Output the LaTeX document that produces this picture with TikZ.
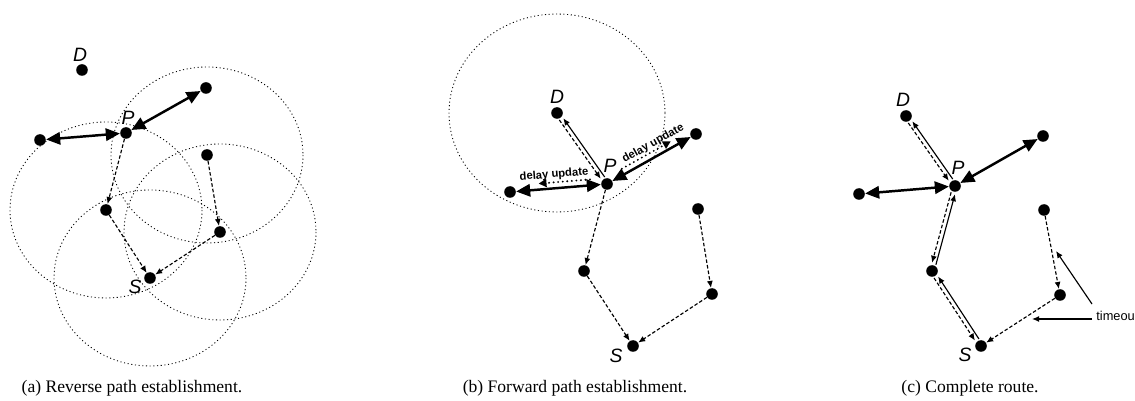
\documentclass[tikz,border=0pt]{standalone}
\usepackage{fontspec}
\setmainfont{Liberation Serif}
\newfontfamily\helv{Liberation Sans}
\usetikzlibrary{arrows.meta,calc}
\tikzset{
  dot/.style={circle,fill=black,inner sep=0pt,minimum size=6.6pt},
  lab/.style={font=\helv\itshape\fontsize{11}{13}\selectfont,inner sep=0pt},
  subcap/.style={font=\fontsize{10}{12}\selectfont,inner sep=0pt},
  note/.style={font=\helv\fontsize{7.3}{9}\selectfont,inner sep=0pt},
  updlab/.style={font=\helv\bfseries\fontsize{6.4}{8}\selectfont,inner sep=0.5pt},
  radio/.style={line width=0.5pt,dash pattern=on 0.6pt off 1.5pt},
  fwd/.style={line width=0.65pt,dash pattern=on 2pt off 1.2pt,-{Latex[length=4pt,width=3.4pt]}},
  rev/.style={line width=0.65pt,-{Latex[length=4pt,width=3.4pt]}},
  link/.style={line width=1.4pt,{Triangle[length=8pt,width=7pt]}-{Triangle[length=8pt,width=7pt]}},
  upd/.style={line width=1.2pt,dash pattern=on 0pt off 2.6pt,line cap=round,-{Triangle[length=4.5pt,width=4.5pt]}},
}
\begin{document}
\begin{tikzpicture}[x=0.02cm,y=-0.02cm,line join=round]
  \useasboundingbox (0,0) rectangle (1135,401);
  % (a) reverse path: nodes and their radio ranges
  \foreach \n/\x/\y in {Da/82/70,Pa/126/133,La/40/140,Ta/206/88,Ra/207/155,Ma/106/210,Qa/220/232,Sa/150/278}
    \node[dot] (\n) at (\x,\y) {};
  \foreach \n in {Ma,Ra,Qa,Sa}
    \draw[radio] (\n.center) ellipse [x radius=96,y radius=88];
  \draw[link] (Pa) -- (La);
  \draw[link] (Pa) -- (Ta);
  \foreach \a/\b in {Pa/Ma,Ma/Sa,Ra/Qa,Qa/Sa}
    \draw[fwd] (\a) -- (\b);
  \node[lab] (lDa) at (80,55) {D};
  \node[lab] (lPa) at (128,118) {P};
  \node[lab] (lSa) at (135,287) {S};
  \node[subcap] (ca) at (132,388) {(a) Reverse path establishment.};

  % (b) forward path
  \foreach \n/\x/\y in {Db/557/113,Pb/607/184,Lb/510/192,Tb/696/134,Rb/698/209,Mb/584/271,Qb/712/294,Sb/633/346}
    \node[dot] (\n) at (\x,\y) {};
  \draw[radio] (Db.center) ellipse [x radius=108,y radius=99];
  \draw[link] (Pb) -- (Lb);
  \draw[link] (Pb) -- (Tb);
  \draw[fwd,shorten <=4pt,shorten >=4.5pt] ($(Db)!1.2pt!-90:(Pb)$) -- ($(Pb)!1.2pt!90:(Db)$);
  \draw[rev,shorten <=4pt,shorten >=4.5pt] ($(Pb)!1.2pt!-90:(Db)$) -- ($(Db)!1.2pt!90:(Pb)$);
  \foreach \a/\b in {Pb/Mb,Mb/Sb,Rb/Qb,Qb/Sb}
    \draw[fwd] (\a) -- (\b);
  % delay update messages
  \draw[upd] ($(Pb)!0.17!(Lb)!3.4pt!-90:(Lb)$) -- ($(Pb)!0.7!(Lb)!3.4pt!-90:(Lb)$);
  \draw[upd] ($(Pb)!0.2!(Tb)!3.4pt!90:(Tb)$) -- ($(Pb)!0.75!(Tb)!3.4pt!90:(Tb)$);
  \path (Lb) -- (Pb) node[updlab,sloped,pos=0.46,above=4pt] (dL) {delay update};
  \path (Pb) -- (Tb) node[updlab,sloped,pos=0.6,above=3.5pt] (dT) {delay update};
  \node[lab] (lDb) at (557,97) {D};
  \node[lab] (lPb) at (610,166) {P};
  \node[lab] (lSb) at (616,356) {S};
  \node[subcap] (cb) at (575,388) {(b) Forward path establishment.};

  % (c) complete route
  \foreach \n/\x/\y in {Dc/906/116,Pc/955/186,Lc/859/194,Tc/1043/136,Rc/1044/210,Mc/932/271,Qc/1060/295,Sc/981/346}
    \node[dot] (\n) at (\x,\y) {};
  \draw[link] (Pc) -- (Lc);
  \draw[link] (Pc) -- (Tc);
  \foreach \a/\b in {Dc/Pc,Pc/Mc,Mc/Sc}{
    \draw[fwd,shorten <=4pt,shorten >=4.5pt] ($(\a)!1.2pt!-90:(\b)$) -- ($(\b)!1.2pt!90:(\a)$);
    \draw[rev,shorten <=4pt,shorten >=4.5pt] ($(\b)!1.2pt!-90:(\a)$) -- ($(\a)!1.2pt!90:(\b)$);
  }
  \foreach \a/\b in {Rc/Qc,Qc/Sc}
    \draw[fwd] (\a) -- (\b);
  \node[lab] (lDc) at (903,100) {D};
  \node[lab] (lPc) at (958,168) {P};
  \node[lab] (lSc) at (965,355) {S};
  % timeout pointers
  \node[note,anchor=west] (tmo) at (1096,316) {timeou};
  \coordinate (tq) at (1056,251);
  \coordinate (ts) at (1032,319);
  \draw[rev] ([shift={(-4,-12)}]tmo.west) -- (tq);
  \draw[rev] ([shift={(-4,3)}]tmo.west) -- (ts);
  \node[subcap] (cc) at (970,388) {(c) Complete route.};
\end{tikzpicture}
\end{document}
